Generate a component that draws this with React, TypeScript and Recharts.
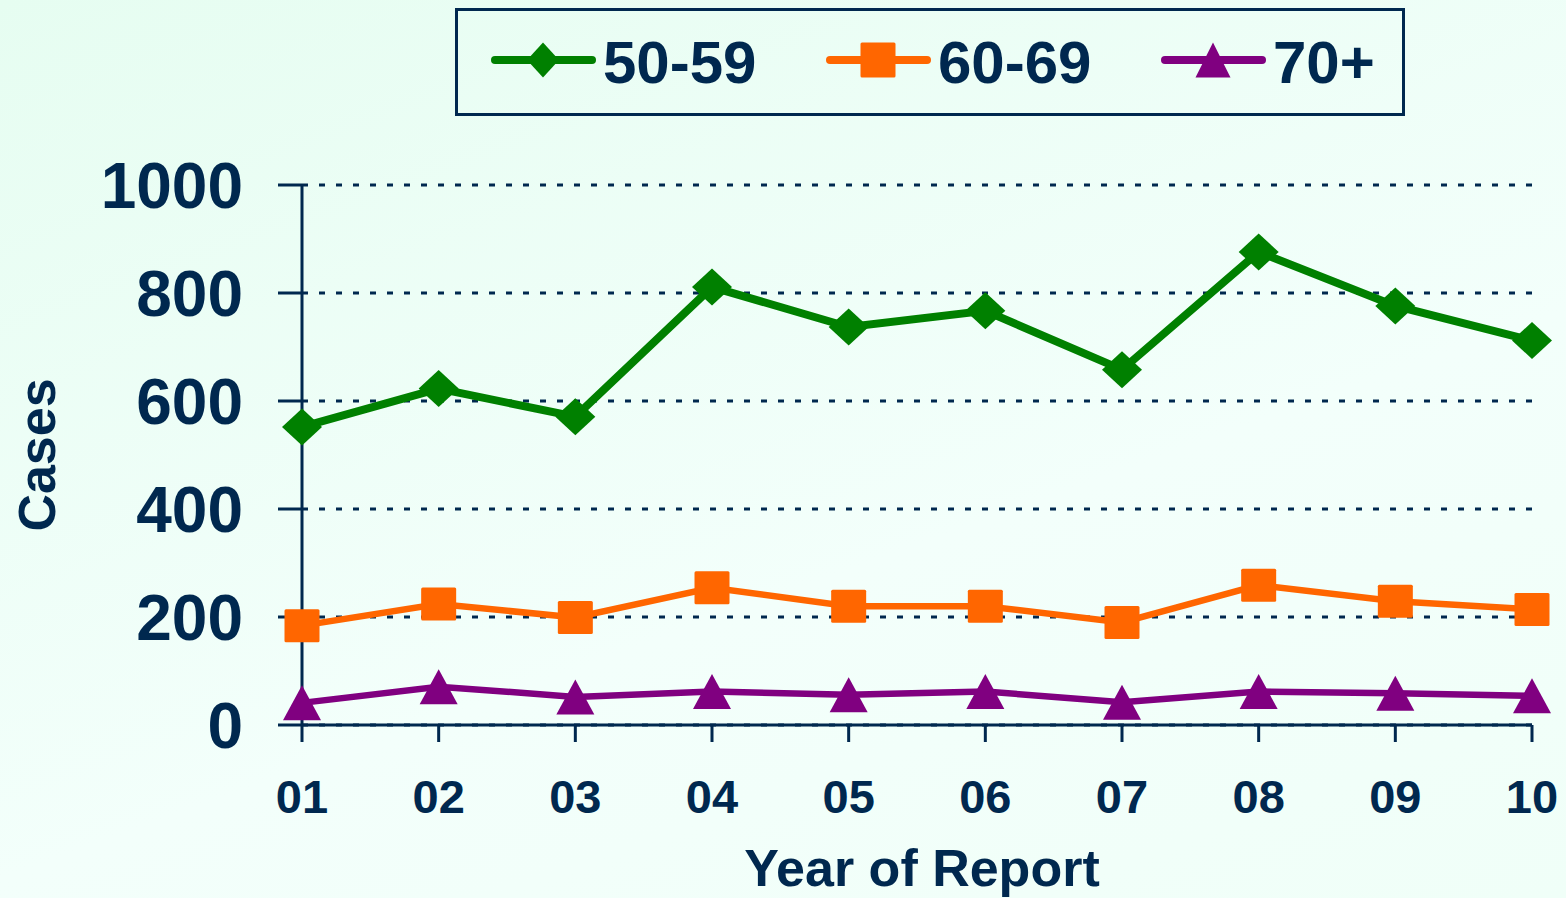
import React from "react";
import { LineChart, Line, XAxis, YAxis, CartesianGrid, Legend, Label } from "recharts";

const years = ["01", "02", "03", "04", "05", "06", "07", "08", "09", "10"];
const age50to59 = [552, 623, 571, 811, 737, 767, 658, 876, 776, 712];
const age60to69 = [184, 224, 199, 254, 220, 220, 190, 259, 229, 214];
const age70plus = [41, 71, 52, 62, 56, 62, 42, 62, 59, 54];
const yTicks = [0, 200, 400, 600, 800, 1000];

const NAVY = "#00284f";
const FONT = "'Liberation Sans', Arial, sans-serif";

const series = [
  { key: "a", name: "50-59", color: "#008000", width: 8, shape: "diamond" },
  { key: "b", name: "60-69", color: "#ff6600", width: 6.5, shape: "square" },
  { key: "c", name: "70+", color: "#800080", width: 6.5, shape: "triangle" },
];

const data = years.map((y, i) => ({
  year: y,
  a: age50to59[i],
  b: age60to69[i],
  c: age70plus[i],
}));

// marker drawn around a point, w/h are full sizes
function marker(shape: string, cx: number, cy: number, w: number, h: number, fill: string, key?: any) {
  if (shape === "diamond") {
    return (
      <polygon
        key={key}
        points={`${cx},${cy - h / 2} ${cx + w / 2},${cy} ${cx},${cy + h / 2} ${cx - w / 2},${cy}`}
        fill={fill}
      />
    );
  }
  if (shape === "square") {
    return <rect key={key} x={cx - w / 2} y={cy - h / 2} width={w} height={h} rx={1.5} fill={fill} />;
  }
  return (
    <polygon
      key={key}
      points={`${cx},${cy - h / 2} ${cx + w / 2},${cy + h / 2} ${cx - w / 2},${cy + h / 2}`}
      fill={fill}
    />
  );
}

const sizes: Record<string, [number, number]> = {
  diamond: [40, 37],
  square: [35, 33],
  triangle: [38, 35],
};

function renderLegend() {
  return (
    <svg width={950} height={108} style={{ display: "block" }}>
      <rect x={1.5} y={1.5} width={947} height={105} fill="none" stroke={NAVY} strokeWidth={3} />
      {series.map((s, i) => {
        const ox = 40 + i * 335;
        return (
          <g key={s.key}>
            <line x1={ox} y1={52} x2={ox + 97} y2={52} stroke={s.color} strokeWidth={8} strokeLinecap="round" />
            {marker(s.shape, ox + 48, 52, s.shape === "diamond" ? 32 : 35, 35, s.color)}
            <text x={ox + 108} y={75} fill={NAVY} fontSize={60} fontWeight="bold" fontFamily={FONT}>
              {s.name}
            </text>
          </g>
        );
      })}
    </svg>
  );
}

export default function App() {
  return (
    <div
      style={{
        position: "absolute",
        left: 0,
        top: 0,
        width: 1566,
        height: 898,
        overflow: "hidden",
        background: "linear-gradient(160deg, #e6fdf1 0%, #f3fffb 60%, #f0fff8 100%)",
      }}
    >
      <LineChart
        width={1566}
        height={898}
        data={data}
        margin={{ top: 185, right: 34, bottom: 0, left: 0 }}
        style={{ fontFamily: FONT }}
      >
        <CartesianGrid vertical={false} stroke={NAVY} strokeWidth={3} strokeDasharray="6 11" />
        <XAxis
          dataKey="year"
          height={173}
          tickSize={17}
          tickMargin={38}
          axisLine={{ stroke: NAVY, strokeWidth: 3 }}
          tickLine={{ stroke: NAVY, strokeWidth: 3 }}
          tick={{ fill: NAVY, fontSize: 47, fontWeight: "bold", fontFamily: FONT }}
          interval={0}
        >
          <Label
            content={(props: any) => {
              const vb = props.viewBox;
              return (
                <text
                  x={vb.x + vb.width / 2 + 5}
                  y={vb.y + 161}
                  textAnchor="middle"
                  fill={NAVY}
                  fontSize={52}
                  fontWeight="bold"
                  fontFamily={FONT}
                >
                  Year of Report
                </text>
              );
            }}
          />
        </XAxis>
        <YAxis
          width={302}
          domain={[0, 1000]}
          ticks={yTicks}
          tickSize={24}
          tickMargin={35}
          axisLine={{ stroke: NAVY, strokeWidth: 3 }}
          tickLine={{ stroke: NAVY, strokeWidth: 3 }}
          tick={{ fill: NAVY, fontSize: 64, fontWeight: "bold", fontFamily: FONT }}
        >
          <Label
            content={(props: any) => {
              const vb = props.viewBox;
              const cy = vb.y + vb.height / 2;
              return (
                <text
                  x={55}
                  y={cy}
                  transform={`rotate(-90, 55, ${cy})`}
                  textAnchor="middle"
                  fill={NAVY}
                  fontSize={52}
                  fontWeight="bold"
                  fontFamily={FONT}
                >
                  Cases
                </text>
              );
            }}
          />
        </YAxis>
        <Legend
          verticalAlign="middle"
          layout="horizontal"
          content={renderLegend}
          wrapperStyle={{ top: 8, left: 455, width: 950, height: 108 }}
        />
        {series.map((s) => (
          <Line
            key={s.key}
            dataKey={s.key}
            name={s.name}
            type="linear"
            stroke={s.color}
            strokeWidth={s.width}
            isAnimationActive={false}
            activeDot={false}
            dot={(p: any) => {
              const [w, h] = sizes[s.shape];
              return marker(s.shape, p.cx, p.cy, w, h, s.color, `${s.key}-${p.index}`);
            }}
          />
        ))}
      </LineChart>
    </div>
  );
}
